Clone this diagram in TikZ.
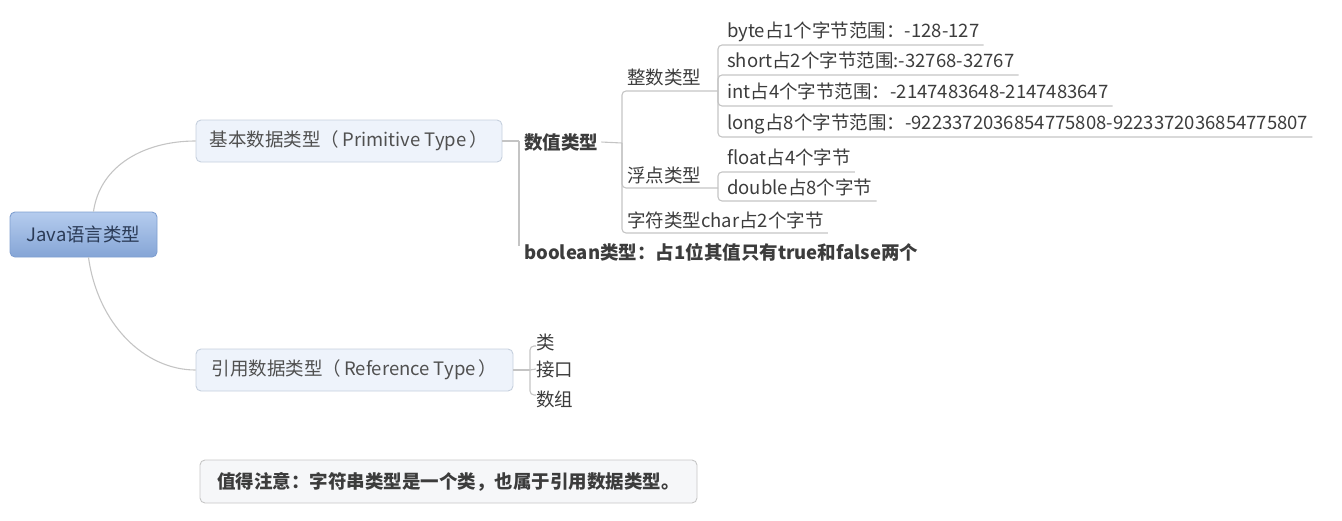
\documentclass[tikz,border=0pt]{standalone}
\usepackage{fontspec}
\setmainfont{Noto Sans CJK SC}
\definecolor{txt}{HTML}{3C3C3C}
\definecolor{ln}{HTML}{C4C4C4}
\definecolor{boxfill}{HTML}{EEF3FB}
\definecolor{boxdraw}{HTML}{C6D0DE}
\definecolor{roottop}{HTML}{B5CCEE}
\definecolor{rootbot}{HTML}{85A5D6}
\definecolor{rootdraw}{HTML}{7F9FD0}
\definecolor{roottxt}{HTML}{2A3A56}
\definecolor{notefill}{HTML}{F6F7F9}
\definecolor{notedraw}{HTML}{C6C6C6}
\begin{document}
\begin{tikzpicture}[x=1pt,y=-1pt,
  every node/.style={font=\fontsize{18.5}{22}\selectfont, text=txt},
  lbl/.style={anchor=base west, inner sep=0pt},
  blbl/.style={lbl, font=\fontsize{18.5}{22}\selectfont\bfseries},
  conn/.style={draw=ln, line width=1.1pt},
  ulc/.style={conn, rounded corners=4pt},
  topicbox/.style={draw=boxdraw, fill=boxfill, rounded corners=5pt, line width=0.9pt, minimum height=42pt, inner sep=0pt, text=txt!90},
  rootbox/.style={draw=rootdraw, top color=roottop, bottom color=rootbot, rounded corners=5pt, line width=0.9pt, minimum width=147pt, minimum height=45pt, inner sep=0pt, text=roottxt},
  notebox/.style={draw=notedraw, fill=notefill, rounded corners=5pt, line width=0.9pt, minimum width=497pt, minimum height=43pt, inner sep=0pt, font=\fontsize{18.5}{22}\selectfont\bfseries}
]
\useasboundingbox (0,0) rectangle (1342,520);

% main topics
\node[rootbox] (root) at (83.5,234.5) {Java语言类型};
\node[topicbox, minimum width=306pt] (prim) at (349,141) {基本数据类型（\,Primitive Type\,）};
\node[topicbox, minimum width=317pt] (ref) at (354.5,370) {引用数据类型（\,Reference Type\,）};
\node[notebox] (note) at (448.5,481.5) {值得注意：字符串类型是一个类，也属于引用数据类型。};

\draw[conn] ([xshift=10pt]root.north) .. controls (100,165) and (145,141) .. (prim.west);
\draw[conn] ([xshift=5pt]root.south) .. controls (98,325) and (145,370) .. (ref.west);

% primitive branch
\node[blbl] (num) at (524,149) {数值类型};
\node[blbl] (bool) at (524,259) {boolean类型：占1位其值只有true和false两个};
\coordinate (pb) at (519,141);
\draw[conn] (prim.east) -- (pb);
\draw[conn] (pb) -- ([yshift=-3pt]pb |- bool.north);

\coordinate (nb) at (622,143);
\draw[conn] ([xshift=3pt]num.east) -- (nb);

\node[lbl] (ityp) at (627,84) {整数类型};
\node[lbl] (ftyp) at (627,182) {浮点类型};
\node[lbl] (ctyp) at (627,227) {字符类型char占2个字节};
\coordinate (ib) at (718,91);
\coordinate (fb) at (718,188);
\draw[ulc] (nb) |- (ib);
\draw[ulc] (nb) |- (fb);
\draw[ulc] (nb) |- ([xshift=4pt,yshift=-6pt]ctyp.base east);

\node[lbl] (byte) at (727,37) {byte占1个字节范围：-128-127};
\node[lbl] (short) at (727,67) {short占2个字节范围:-32768-32767};
\node[lbl] (int) at (727,98) {int占4个字节范围：-2147483648-2147483647};
\node[lbl] (long) at (727,129) {long占8个字节范围：-9223372036854775808-9223372036854775807};
\draw[ulc] (ib) |- ([xshift=4pt,yshift=-8pt]byte.base east);
\draw[ulc] (ib) |- ([xshift=4pt,yshift=-8pt]short.base east);
\draw[ulc] (ib) |- ([xshift=4pt,yshift=-8pt]int.base east);
\draw[ulc] (ib) |- ([xshift=4pt,yshift=-8pt]long.base east);

\node[lbl] (flt) at (727,164) {float占4个字节};
\node[lbl] (dbl) at (727,194) {double占8个字节};
\draw[ulc] (fb) |- ([xshift=4pt,yshift=-8pt]flt.base east);
\draw[ulc] (fb) |- ([xshift=4pt,yshift=-7pt]dbl.base east);

% reference branch
\coordinate (rb) at (530,370);
\draw[conn] (ref.east) -- (rb);
\node[lbl] (cls) at (536,349) {类};
\node[lbl] (itf) at (536,376) {接口};
\node[lbl] (arr) at (536,406) {数组};
\draw[ulc] (rb) |- ([yshift=-4pt]cls.west);
\draw[conn] (rb) -- (itf.west);
\draw[ulc] (rb) |- ([yshift=4pt]arr.west);
\end{tikzpicture}
\end{document}
